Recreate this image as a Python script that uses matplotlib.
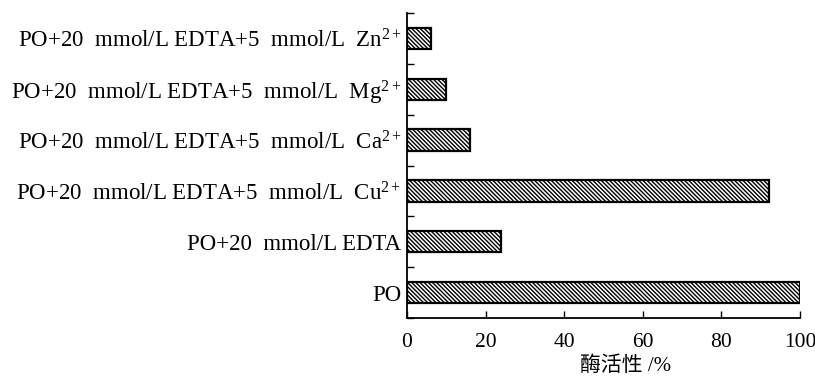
import matplotlib
matplotlib.use("Agg")
import matplotlib.pyplot as plt
import numpy as np

plt.rcParams['font.family'] = ['Liberation Serif', 'Noto Sans CJK SC']
plt.rcParams['mathtext.fontset'] = 'custom'
plt.rcParams['mathtext.rm'] = 'Liberation Serif'
plt.rcParams['mathtext.it'] = 'Liberation Serif:italic'
plt.rcParams['hatch.linewidth'] = 1.0

categories = [
    "PO",
    "PO+20  mmol/L EDTA",
    "PO+20  mmol/L EDTA+5  mmol/L  Cu$^{2+}$",
    "PO+20  mmol/L EDTA+5  mmol/L  Ca$^{2+}$",
    "PO+20  mmol/L EDTA+5  mmol/L  Mg$^{2+}$",
    "PO+20  mmol/L EDTA+5  mmol/L  Zn$^{2+}$",
]
activity = [100, 24, 92, 16, 10, 6]
xticks = [0, 20, 40, 60, 80, 100]
xlabel = "酶活性 /%"

fig = plt.figure(figsize=(8.15, 3.78), dpi=100)
ax = fig.add_axes([0.4994, 0.1587, 0.9816 - 0.4994, 0.9656 - 0.1587])

y = np.arange(len(categories))
ax.barh(y, activity, height=0.42, color='white', edgecolor='black',
        linewidth=1.6, hatch='\\\\\\\\\\\\\\\\')

ax.set_xlim(0, 100)
ax.set_ylim(-0.5, len(categories) - 0.5)
ax.set_xticks(xticks)
ax.set_xticklabels([str(v) for v in xticks], fontsize=15.5)
ax.set_yticks(y)
ax.set_yticklabels(categories, fontsize=16.5)
ax.set_yticks(np.arange(-0.5, len(categories), 1.0), minor=True)
ax.tick_params(axis='y', which='major', length=0, pad=4)
ax.tick_params(axis='y', which='minor', direction='in', length=5, width=1)
ax.tick_params(axis='x', which='major', direction='in', length=5, width=1, pad=11)

for s in ['top', 'right']:
    ax.spines[s].set_visible(False)
for s in ['left', 'bottom']:
    ax.spines[s].set_linewidth(1.3)

ax.set_xlabel(xlabel, fontsize=15)
ax.xaxis.set_label_coords(0.555, -0.125)

fig.savefig("out.png", dpi=100)
